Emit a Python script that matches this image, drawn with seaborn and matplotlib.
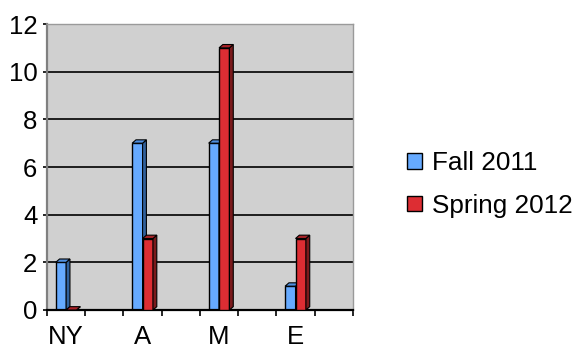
import matplotlib
matplotlib.use("Agg")
import matplotlib.pyplot as plt
import seaborn as sns
import pandas as pd
from matplotlib.patches import Polygon, Patch

categories = ["NY", "A", "M", "E"]
fall_2011 = [2, 7, 7, 1]
spring_2012 = [0, 3, 11, 3]
series_names = ["Fall 2011", "Spring 2012"]
y_ticks = [0, 2, 4, 6, 8, 10, 12]

df = pd.DataFrame({
    "category": categories * 2,
    "count": fall_2011 + spring_2012,
    "term": [series_names[0]] * len(categories) + [series_names[1]] * len(categories),
})

sns.set_theme(style="white")
plt.rcParams["font.family"] = ["Liberation Sans", "DejaVu Sans"]
plt.rcParams["text.color"] = "black"

front = {"Fall 2011": "#66aaff", "Spring 2012": "#dd2d33"}
side = {"Fall 2011": "#30609c", "Spring 2012": "#7a1a1c"}
topc = {"Fall 2011": "#4f8fe0", "Spring 2012": "#a82227"}

fig = plt.figure(figsize=(5.76, 3.48), dpi=100)
ax = fig.add_axes([0.0816, 0.1092, 0.531, 0.8218])
ax.set_facecolor("#d0d0d0")

sns.barplot(data=df, x="category", y="count", hue="term", order=categories,
            hue_order=series_names, palette=front, saturation=1, width=0.272,
            edgecolor="black", linewidth=1.0, legend=False, ax=ax)

# depth of the pseudo-3D columns, in data units
dx, dy = 0.05, 0.14
for i, (name, cont) in enumerate(zip(series_names, ax.containers)):
    z = 2 + i
    for rect in cont.patches:
        rect.set_zorder(z)
        x0, w, h = rect.get_x(), rect.get_width(), rect.get_height()
        x1 = x0 + w
        ax.add_patch(Polygon([(x1, 0), (x1 + dx, dy), (x1 + dx, h + dy), (x1, h)],
                             closed=True, facecolor=side[name], edgecolor="black",
                             linewidth=0.8, zorder=z + 0.1))
        ax.add_patch(Polygon([(x0, h), (x0 + dx, h + dy), (x1 + dx, h + dy), (x1, h)],
                             closed=True, facecolor=topc[name], edgecolor="black",
                             linewidth=0.8, zorder=z + 0.1))

ax.set_xlim(-0.25, 3.75)
ax.set_ylim(0, 12)
ax.set_yticks(y_ticks)
ax.set_yticklabels([str(v) for v in y_ticks])
ax.yaxis.grid(True, color="black", linewidth=1.2)
ax.set_axisbelow(True)

ax.set_xticks(range(len(categories)))
ax.set_xticklabels(categories)
ax.set_xticks([-0.25 + 0.5 * k for k in range(9)], minor=True)
ax.tick_params(axis="x", which="major", length=0, pad=11, labelsize=18.5, colors="black")
ax.tick_params(axis="x", which="minor", length=4, width=1.2, direction="out", color="black", bottom=True)
ax.tick_params(axis="y", length=3, width=1.2, direction="out", pad=4, labelsize=18.5, colors="black", left=True)
ax.set_xlabel("")
ax.set_ylabel("")

for s in ["top", "right"]:
    ax.spines[s].set_color("#9a9a9a")
    ax.spines[s].set_linewidth(1.0)
ax.spines["left"].set_color("#808080")
ax.spines["left"].set_linewidth(1.6)
ax.spines["bottom"].set_color("black")
ax.spines["bottom"].set_linewidth(1.6)

handles = [Patch(facecolor=front[n], edgecolor="black", linewidth=1.0) for n in series_names]
fig.legend(handles, series_names, loc="upper left", bbox_to_anchor=(0.707, 0.565),
           frameon=False, fontsize=18.8, handlelength=0.55, handleheight=0.55,
           handletextpad=0.4, labelspacing=0.7, borderpad=0, borderaxespad=0,
           labelcolor="black")

fig.savefig("out.png", dpi=100)
